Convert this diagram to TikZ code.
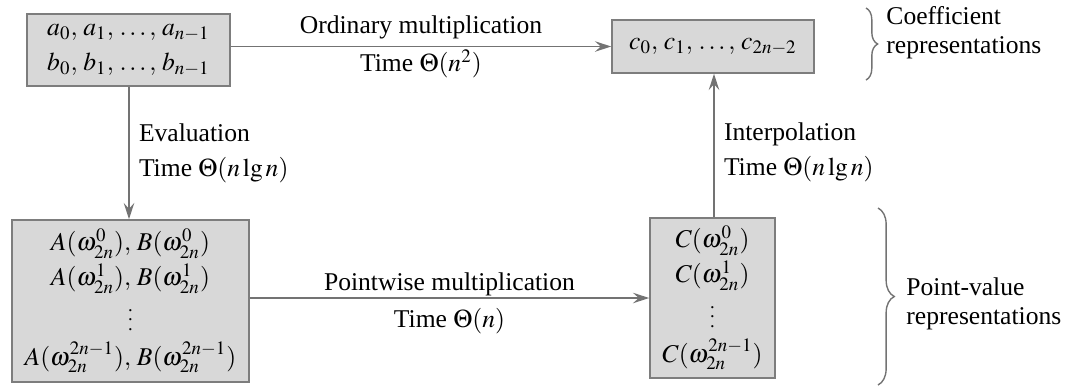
\documentclass[tikz,border=0pt]{standalone}
\usepackage{mathptmx}
\usepackage{fontspec}
\setmainfont{Liberation Serif}
\definecolor{boxfill}{RGB}{216,216,216}
\definecolor{boxline}{RGB}{125,125,125}
\definecolor{arrline}{RGB}{115,115,115}
\usetikzlibrary{arrows.meta,positioning,calc,decorations.pathreplacing}
\newcommand{\smalldots}{{\fontsize{8}{8}\selectfont$\vdots$}}

\begin{document}
\begin{tikzpicture}[x=0.43pt, y=-0.43pt,
  valbox/.style={draw=boxline, fill=boxfill, line width=0.6pt, inner sep=0pt, align=center, font=\fontsize{11}{15}\selectfont},
  arr/.style={draw=arrline, line width=0.6pt, -{Stealth[length=7pt,width=4.5pt,inset=2.5pt]}},
  lbl/.style={font=\fontsize{11}{13}\selectfont, inner sep=0pt},
  sidelbl/.style={font=\fontsize{11}{15}\selectfont, inner sep=0pt, align=left, anchor=west},
  replbl/.style={font=\fontsize{11}{12.5}\selectfont, inner sep=0pt, align=left, anchor=west},
  brc/.style={draw=arrline, line width=0.6pt, decorate}]
  \useasboundingbox (0,0) rectangle (1073,387);
  % coefficient forms
  \node[valbox, minimum width=87.3pt, minimum height=31pt] (ab) at (128.5,50) {$a_0,\, a_1,\, \ldots,\, a_{n-1}$\\$b_0,\, b_1,\, \ldots,\, b_{n-1}$};
  \node[valbox, minimum width=86.9pt, minimum height=22.8pt] (c) at (713,46.5) {$c_0,\, c_1,\, \ldots,\, c_{2n-2}$};
  % point-value forms
  \node[valbox, minimum width=101.9pt, minimum height=69.7pt] (ABv) at (130.5,301) {$A(\omega_{2n}^0),\, B(\omega_{2n}^0)$\\$A(\omega_{2n}^1),\, B(\omega_{2n}^1)$\\\smalldots\\$A(\omega_{2n}^{2n-1}),\, B(\omega_{2n}^{2n-1})$};
  \node[valbox, minimum width=53.8pt, minimum height=68.8pt] (Cv) at (712.5,298) {$C(\omega_{2n}^0)$\\$C(\omega_{2n}^1)$\\\smalldots\\$C(\omega_{2n}^{2n-1})$};
  % arrows
  \draw[arr] (ab.east |- c.west) -- node[lbl, above=3pt] {Ordinary multiplication} node[lbl, below=1pt] {Time $\Theta(n^2)$} (c.west);
  \draw[arr] (ab.south -| 129,0) -- node[sidelbl, xshift=4pt] {Evaluation\\Time $\Theta(n\lg n)$} (ABv.north -| 129,0);
  \draw[arr] (Cv.north -| 714,0) -- node[sidelbl, xshift=4pt, yshift=-3pt] {Interpolation\\Time $\Theta(n\lg n)$} (c.south -| 714,0);
  \draw[arr] (ABv.east |- Cv.west) -- node[lbl, above=0.5pt] {Pointwise multiplication} node[lbl, below=4pt] {Time $\Theta(n)$} (Cv.west);
  % braces
  \draw[brc, decoration={brace, amplitude=5pt}] (866,8) -- (866,80);
  \node[replbl] (coeflbl) at (886,33) {Coefficient\\representations};
  \draw[brc, decoration={brace, amplitude=7pt}] (878,208) -- (878,385);
  \node[replbl] (pvlbl) at (906,304) {Point-value\\representations};
\end{tikzpicture}
\end{document}
